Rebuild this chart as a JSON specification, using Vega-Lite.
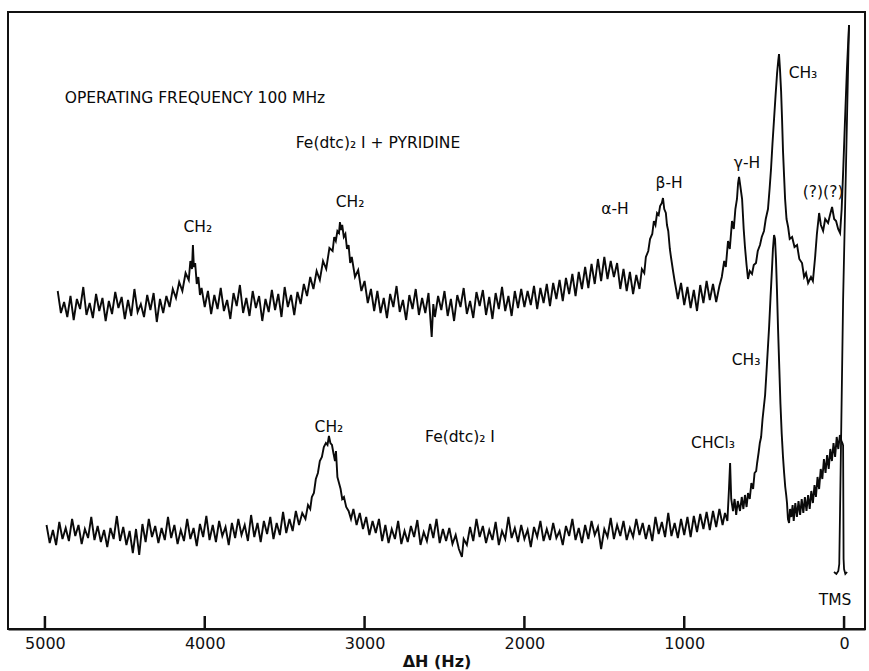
{
  "$schema": "https://vega.github.io/schema/vega-lite/v6.json",
  "width": 857,
  "height": 617,
  "autosize": {"type": "none"},
  "padding": {"left": 8, "top": 12, "right": 4, "bottom": 42},
  "background": "white",
  "config": {
    "view": {"stroke": "#111", "strokeWidth": 2},
    "font": "DejaVu Sans"
  },
  "datasets": {
    "upper": [
      {"hz":4920,"y":338},{"hz":4900,"y":316},{"hz":4880,"y":327},{"hz":4860,"y":312},{"hz":4840,"y":333},{"hz":4820,"y":309},{"hz":4800,"y":330},{"hz":4780,"y":320},{"hz":4760,"y":342},{"hz":4740,"y":314},{"hz":4720,"y":326},{"hz":4700,"y":311},{"hz":4680,"y":335},{"hz":4660,"y":318},{"hz":4640,"y":331},{"hz":4620,"y":308},{"hz":4600,"y":328},{"hz":4580,"y":315},{"hz":4560,"y":337},{"hz":4540,"y":321},{"hz":4520,"y":332},{"hz":4500,"y":310},{"hz":4480,"y":329},{"hz":4460,"y":313},{"hz":4440,"y":340},{"hz":4420,"y":317},{"hz":4400,"y":325},{"hz":4380,"y":312},{"hz":4360,"y":334},{"hz":4340,"y":319},{"hz":4320,"y":336},{"hz":4300,"y":307},{"hz":4280,"y":330},{"hz":4260,"y":316},{"hz":4240,"y":333},
      {"hz":4220,"y":322},{"hz":4200,"y":340},{"hz":4180,"y":331},{"hz":4160,"y":347},{"hz":4140,"y":338},{"hz":4120,"y":356},{"hz":4100,"y":349},{"hz":4090,"y":368},{"hz":4080,"y":360},{"hz":4074,"y":384},{"hz":4068,"y":362},{"hz":4060,"y":366},{"hz":4050,"y":345},{"hz":4040,"y":352},{"hz":4030,"y":334},{"hz":4020,"y":341},{"hz":4000,"y":322},{"hz":3980,"y":338},
      {"hz":3960,"y":315},{"hz":3940,"y":334},{"hz":3920,"y":320},{"hz":3900,"y":341},{"hz":3880,"y":318},{"hz":3860,"y":329},{"hz":3840,"y":310},{"hz":3820,"y":336},{"hz":3800,"y":323},{"hz":3780,"y":344},{"hz":3760,"y":316},{"hz":3740,"y":331},{"hz":3720,"y":313},{"hz":3700,"y":338},{"hz":3680,"y":321},{"hz":3660,"y":333},{"hz":3640,"y":308},{"hz":3620,"y":330},{"hz":3600,"y":317},{"hz":3580,"y":339},{"hz":3560,"y":319},{"hz":3540,"y":335},{"hz":3520,"y":312},{"hz":3500,"y":342},{"hz":3480,"y":322},{"hz":3460,"y":334},{"hz":3440,"y":314},{"hz":3420,"y":337},
      {"hz":3400,"y":325},{"hz":3380,"y":345},{"hz":3360,"y":333},{"hz":3340,"y":352},{"hz":3320,"y":340},{"hz":3300,"y":358},{"hz":3280,"y":349},{"hz":3260,"y":368},{"hz":3240,"y":360},{"hz":3220,"y":381},{"hz":3200,"y":378},{"hz":3190,"y":392},{"hz":3180,"y":388},{"hz":3170,"y":398},{"hz":3160,"y":396},{"hz":3154,"y":407},{"hz":3148,"y":399},{"hz":3140,"y":404},{"hz":3130,"y":392},{"hz":3120,"y":395},{"hz":3110,"y":380},{"hz":3100,"y":384},{"hz":3090,"y":366},{"hz":3080,"y":372},{"hz":3060,"y":352},{"hz":3040,"y":359},{"hz":3020,"y":338},{"hz":3000,"y":348},{"hz":2980,"y":326},{"hz":2960,"y":340},
      {"hz":2940,"y":318},{"hz":2920,"y":338},{"hz":2900,"y":316},{"hz":2880,"y":331},{"hz":2860,"y":311},{"hz":2840,"y":335},{"hz":2820,"y":322},{"hz":2800,"y":343},{"hz":2780,"y":317},{"hz":2760,"y":329},{"hz":2740,"y":309},{"hz":2720,"y":334},{"hz":2700,"y":320},{"hz":2680,"y":340},{"hz":2660,"y":314},{"hz":2640,"y":331},{"hz":2620,"y":316},{"hz":2600,"y":336},{"hz":2580,"y":292},{"hz":2570,"y":325},{"hz":2560,"y":312},{"hz":2540,"y":333},{"hz":2520,"y":319},{"hz":2500,"y":338},{"hz":2480,"y":313},{"hz":2460,"y":330},{"hz":2440,"y":308},{"hz":2420,"y":334},{"hz":2400,"y":322},{"hz":2380,"y":341},{"hz":2360,"y":315},{"hz":2340,"y":328},{"hz":2320,"y":311},{"hz":2300,"y":337},{"hz":2280,"y":323},{"hz":2260,"y":339},{"hz":2240,"y":314},{"hz":2220,"y":332},{"hz":2200,"y":310},{"hz":2180,"y":336},{"hz":2160,"y":320},{"hz":2140,"y":342},{"hz":2120,"y":318},{"hz":2100,"y":333},{"hz":2080,"y":313},{"hz":2060,"y":338},{"hz":2040,"y":321},
      {"hz":2020,"y":340},{"hz":2000,"y":322},{"hz":1980,"y":338},{"hz":1960,"y":324},{"hz":1940,"y":343},{"hz":1920,"y":320},{"hz":1900,"y":341},{"hz":1880,"y":326},{"hz":1860,"y":345},{"hz":1840,"y":323},{"hz":1820,"y":346},{"hz":1800,"y":330},{"hz":1780,"y":349},{"hz":1760,"y":328},{"hz":1740,"y":351},{"hz":1720,"y":335},{"hz":1700,"y":355},{"hz":1680,"y":333},{"hz":1660,"y":357},{"hz":1640,"y":340},{"hz":1620,"y":362},{"hz":1600,"y":341},{"hz":1580,"y":365},{"hz":1560,"y":345},{"hz":1540,"y":370},{"hz":1520,"y":348},{"hz":1500,"y":372},{"hz":1480,"y":350},{"hz":1460,"y":368},{"hz":1440,"y":352},{"hz":1420,"y":366},{"hz":1400,"y":340},{"hz":1380,"y":360},{"hz":1360,"y":338},{"hz":1340,"y":357},{"hz":1320,"y":335},{"hz":1300,"y":354},{"hz":1280,"y":340},
      {"hz":1265,"y":360},{"hz":1250,"y":356},{"hz":1240,"y":372},{"hz":1225,"y":378},{"hz":1214,"y":390},{"hz":1200,"y":395},{"hz":1190,"y":408},{"hz":1180,"y":404},{"hz":1170,"y":416},{"hz":1160,"y":414},{"hz":1151,"y":423},{"hz":1140,"y":426},{"hz":1133,"y":431},{"hz":1125,"y":420},{"hz":1115,"y":416},{"hz":1108,"y":404},{"hz":1100,"y":398},{"hz":1090,"y":380},{"hz":1083,"y":372},{"hz":1070,"y":358},{"hz":1060,"y":348},{"hz":1051,"y":340},{"hz":1040,"y":330},
      {"hz":1020,"y":346},{"hz":1000,"y":324},{"hz":980,"y":342},{"hz":960,"y":321},{"hz":940,"y":339},{"hz":920,"y":318},{"hz":900,"y":344},{"hz":880,"y":326},{"hz":860,"y":348},{"hz":840,"y":329},{"hz":820,"y":345},{"hz":800,"y":327},{"hz":780,"y":343},
      {"hz":765,"y":352},{"hz":750,"y":368},{"hz":740,"y":362},{"hz":726,"y":388},{"hz":715,"y":380},{"hz":701,"y":408},{"hz":690,"y":400},{"hz":680,"y":420},{"hz":670,"y":430},{"hz":663,"y":446},{"hz":657,"y":452},{"hz":650,"y":444},{"hz":638,"y":430},{"hz":628,"y":400},{"hz":620,"y":382},{"hz":610,"y":364},{"hz":601,"y":350},{"hz":590,"y":358},{"hz":576,"y":355},{"hz":565,"y":364},{"hz":551,"y":366},{"hz":540,"y":378},{"hz":526,"y":384},{"hz":515,"y":392},{"hz":501,"y":398},{"hz":490,"y":410},{"hz":476,"y":420},{"hz":466,"y":440},{"hz":457,"y":460},{"hz":448,"y":485},{"hz":438,"y":510},{"hz":428,"y":535},{"hz":419,"y":556},{"hz":412,"y":568},{"hz":407,"y":575},{"hz":401,"y":560},{"hz":394,"y":538},{"hz":388,"y":510},{"hz":382,"y":478},{"hz":375,"y":452},{"hz":369,"y":430},{"hz":360,"y":410},{"hz":350,"y":402},{"hz":340,"y":390},{"hz":325,"y":392},{"hz":310,"y":382},{"hz":294,"y":384},{"hz":280,"y":370},{"hz":263,"y":366},{"hz":250,"y":352},{"hz":238,"y":356},{"hz":225,"y":346},{"hz":207,"y":352},{"hz":195,"y":348},{"hz":181,"y":372},{"hz":170,"y":395},{"hz":156,"y":416},{"hz":145,"y":404},{"hz":131,"y":398},{"hz":118,"y":410},{"hz":100,"y":406},{"hz":88,"y":414},{"hz":75,"y":422},{"hz":62,"y":410},{"hz":50,"y":408},{"hz":37,"y":400},{"hz":25,"y":396},{"hz":15,"y":420},{"hz":5,"y":460},{"hz":-6,"y":509},{"hz":-18,"y":560},{"hz":-31,"y":604}
    ],
    "upperTMS": [
      {"hz":-31,"y":604},{"hz":6,"y":329},{"hz":30,"y":65},{"hz":36,"y":58},{"hz":48,"y":55},{"hz":63,"y":57}
    ],
    "lower": [
      {"hz":4990,"y":104},{"hz":4970,"y":86},{"hz":4950,"y":99},{"hz":4930,"y":84},{"hz":4910,"y":107},{"hz":4890,"y":90},{"hz":4870,"y":101},{"hz":4850,"y":88},{"hz":4830,"y":110},{"hz":4810,"y":93},{"hz":4790,"y":104},{"hz":4770,"y":85},{"hz":4750,"y":100},{"hz":4730,"y":91},{"hz":4710,"y":112},{"hz":4690,"y":89},{"hz":4670,"y":103},{"hz":4650,"y":87},{"hz":4630,"y":99},{"hz":4610,"y":82},{"hz":4590,"y":101},{"hz":4570,"y":90},{"hz":4550,"y":113},{"hz":4530,"y":88},{"hz":4510,"y":102},{"hz":4490,"y":84},{"hz":4470,"y":98},{"hz":4450,"y":76},{"hz":4430,"y":100},{"hz":4410,"y":74},{"hz":4390,"y":105},{"hz":4370,"y":87},{"hz":4350,"y":110},{"hz":4330,"y":92},{"hz":4310,"y":103},{"hz":4290,"y":86},{"hz":4270,"y":101},{"hz":4250,"y":89},{"hz":4230,"y":112},{"hz":4210,"y":91},{"hz":4190,"y":104},{"hz":4170,"y":85},{"hz":4150,"y":99},{"hz":4130,"y":88},{"hz":4110,"y":110},{"hz":4090,"y":90},{"hz":4070,"y":101},{"hz":4050,"y":83},{"hz":4030,"y":105},{"hz":4010,"y":92},{"hz":3990,"y":113},{"hz":3970,"y":89},{"hz":3950,"y":104},{"hz":3930,"y":87},{"hz":3910,"y":108},{"hz":3890,"y":93},{"hz":3870,"y":102},{"hz":3850,"y":84},{"hz":3830,"y":106},{"hz":3810,"y":91},{"hz":3790,"y":110},{"hz":3770,"y":94},{"hz":3750,"y":104},{"hz":3730,"y":88},{"hz":3710,"y":114},{"hz":3690,"y":92},{"hz":3670,"y":106},{"hz":3650,"y":87},{"hz":3630,"y":108},{"hz":3610,"y":95},{"hz":3590,"y":112},{"hz":3570,"y":90},{"hz":3550,"y":106},{"hz":3530,"y":94},{"hz":3510,"y":117},{"hz":3490,"y":96},
      {"hz":3470,"y":110},{"hz":3450,"y":98},{"hz":3430,"y":118},{"hz":3410,"y":104},{"hz":3390,"y":116},{"hz":3370,"y":110},{"hz":3354,"y":124},{"hz":3340,"y":120},{"hz":3330,"y":132},{"hz":3317,"y":136},{"hz":3305,"y":150},{"hz":3292,"y":156},{"hz":3280,"y":168},{"hz":3267,"y":172},{"hz":3255,"y":182},{"hz":3242,"y":186},{"hz":3232,"y":184},{"hz":3223,"y":193},{"hz":3214,"y":186},{"hz":3204,"y":184},{"hz":3195,"y":176},{"hz":3185,"y":168},{"hz":3179,"y":178},{"hz":3170,"y":152},{"hz":3160,"y":146},{"hz":3150,"y":140},{"hz":3140,"y":130},{"hz":3129,"y":132},{"hz":3115,"y":122},{"hz":3100,"y":118},{"hz":3085,"y":110},{"hz":3070,"y":120},{"hz":3050,"y":104},{"hz":3030,"y":116},{"hz":3010,"y":100},{"hz":2990,"y":112},{"hz":2970,"y":94},{"hz":2950,"y":108},{"hz":2930,"y":96},{"hz":2910,"y":110},
      {"hz":2890,"y":88},{"hz":2870,"y":104},{"hz":2850,"y":86},{"hz":2830,"y":100},{"hz":2810,"y":90},{"hz":2790,"y":108},{"hz":2770,"y":85},{"hz":2750,"y":98},{"hz":2730,"y":87},{"hz":2710,"y":103},{"hz":2690,"y":92},{"hz":2670,"y":109},{"hz":2650,"y":84},{"hz":2630,"y":97},{"hz":2610,"y":88},{"hz":2590,"y":105},{"hz":2570,"y":91},{"hz":2550,"y":110},{"hz":2530,"y":86},{"hz":2510,"y":100},{"hz":2490,"y":88},{"hz":2470,"y":101},{"hz":2450,"y":85},{"hz":2430,"y":94},{"hz":2410,"y":80},{"hz":2391,"y":72},{"hz":2380,"y":90},{"hz":2360,"y":84},{"hz":2340,"y":102},{"hz":2320,"y":88},{"hz":2300,"y":110},{"hz":2280,"y":92},{"hz":2260,"y":103},{"hz":2240,"y":86},{"hz":2220,"y":99},{"hz":2200,"y":89},{"hz":2180,"y":107},{"hz":2160,"y":84},{"hz":2140,"y":98},{"hz":2120,"y":90},{"hz":2100,"y":112},{"hz":2080,"y":91},{"hz":2060,"y":101},{"hz":2040,"y":87},{"hz":2020,"y":104},{"hz":2000,"y":90},{"hz":1980,"y":99},{"hz":1960,"y":82},{"hz":1940,"y":102},{"hz":1920,"y":92},{"hz":1900,"y":108},{"hz":1880,"y":88},{"hz":1860,"y":100},{"hz":1840,"y":89},{"hz":1820,"y":106},{"hz":1800,"y":91},{"hz":1780,"y":98},{"hz":1760,"y":84},{"hz":1740,"y":103},{"hz":1720,"y":93},{"hz":1700,"y":110},{"hz":1680,"y":89},{"hz":1660,"y":101},{"hz":1640,"y":86},{"hz":1620,"y":104},{"hz":1600,"y":90},{"hz":1580,"y":108},{"hz":1560,"y":94},{"hz":1540,"y":102},{"hz":1520,"y":80},{"hz":1500,"y":100},{"hz":1480,"y":92},{"hz":1460,"y":111},{"hz":1440,"y":90},{"hz":1420,"y":104},{"hz":1400,"y":93},{"hz":1380,"y":108},{"hz":1360,"y":89},{"hz":1340,"y":101},{"hz":1320,"y":92},{"hz":1300,"y":110},{"hz":1280,"y":94},{"hz":1260,"y":106},{"hz":1240,"y":90},{"hz":1220,"y":104},{"hz":1200,"y":88},{"hz":1180,"y":112},{"hz":1160,"y":95},{"hz":1140,"y":107},{"hz":1120,"y":92},{"hz":1100,"y":116},{"hz":1080,"y":93},{"hz":1060,"y":106},{"hz":1040,"y":91},{"hz":1020,"y":110},{"hz":1000,"y":94},{"hz":980,"y":112},{"hz":960,"y":92},{"hz":940,"y":113},{"hz":920,"y":97},
      {"hz":900,"y":115},{"hz":880,"y":100},{"hz":860,"y":117},{"hz":840,"y":99},{"hz":820,"y":118},{"hz":800,"y":102},{"hz":780,"y":120},{"hz":760,"y":104},{"hz":745,"y":116},{"hz":730,"y":108},{"hz":720,"y":140},{"hz":713,"y":166},{"hz":706,"y":130},{"hz":695,"y":118},{"hz":685,"y":130},{"hz":675,"y":114},{"hz":665,"y":128},{"hz":651,"y":118},{"hz":640,"y":132},{"hz":630,"y":120},{"hz":620,"y":134},{"hz":610,"y":122},{"hz":601,"y":136},{"hz":590,"y":130},{"hz":580,"y":146},{"hz":569,"y":140},{"hz":560,"y":156},{"hz":550,"y":158},{"hz":544,"y":166},{"hz":535,"y":176},{"hz":527,"y":186},{"hz":519,"y":192},{"hz":510,"y":210},{"hz":502,"y":222},{"hz":494,"y":234},{"hz":485,"y":258},{"hz":477,"y":280},{"hz":469,"y":302},{"hz":460,"y":332},{"hz":451,"y":360},{"hz":445,"y":380},{"hz":438,"y":394},{"hz":432,"y":390},{"hz":426,"y":370},{"hz":420,"y":340},{"hz":413,"y":300},{"hz":405,"y":260},{"hz":398,"y":225},{"hz":390,"y":195},{"hz":382,"y":172},{"hz":375,"y":156},{"hz":368,"y":142},{"hz":362,"y":134},{"hz":357,"y":126},{"hz":351,"y":110},{"hz":344,"y":106},{"hz":338,"y":120},{"hz":330,"y":112},{"hz":322,"y":124},{"hz":315,"y":108},{"hz":305,"y":126},{"hz":295,"y":112},{"hz":285,"y":128},{"hz":275,"y":114},{"hz":265,"y":130},{"hz":255,"y":116},{"hz":245,"y":132},{"hz":235,"y":118},{"hz":225,"y":134},{"hz":215,"y":120},{"hz":205,"y":138},{"hz":195,"y":126},{"hz":185,"y":144},{"hz":176,"y":132},{"hz":166,"y":152},{"hz":156,"y":140},{"hz":146,"y":160},{"hz":136,"y":150},{"hz":126,"y":170},{"hz":116,"y":156},{"hz":106,"y":174},{"hz":96,"y":160},{"hz":86,"y":180},{"hz":76,"y":168},{"hz":66,"y":186},{"hz":56,"y":172},{"hz":46,"y":192},{"hz":36,"y":180},{"hz":26,"y":194},{"hz":16,"y":188},{"hz":6,"y":184}
    ],
    "lowerTMS": [
      {"hz":-19,"y":57},{"hz":-8,"y":55},{"hz":0,"y":60},{"hz":3,"y":70},{"hz":6,"y":184}
    ],
    "tickpos": [
      {"pos":0},{"pos":1000},{"pos":2000},{"pos":3000},{"pos":4000},{"pos":5000}
    ],
    "labels": [
      {"hz":4061,"y":531,"t":"OPERATING  FREQUENCY  100 MHz"},
      {"hz":2916,"y":486,"t":"Fe(dtc)₂ I + PYRIDINE"},
      {"hz":4043,"y":402,"t":"CH₂"},
      {"hz":3091,"y":427,"t":"CH₂"},
      {"hz":1433,"y":420,"t":"α-H"},
      {"hz":1095,"y":446,"t":"β-H"},
      {"hz":607,"y":466,"t":"γ-H"},
      {"hz":257,"y":556,"t":"CH₃"},
      {"hz":131,"y":437,"t":"(?)(?)"},
      {"hz":3223,"y":202,"t":"CH₂"},
      {"hz":2403,"y":192,"t":"Fe(dtc)₂ I"},
      {"hz":820,"y":186,"t":"CHCl₃"},
      {"hz":613,"y":269,"t":"CH₃"},
      {"hz":56,"y":29,"t":"TMS"}
    ]
  },
  "layer": [
    {
      "data": {"name": "upper"},
      "mark": {"type": "line", "color": "#0a0a0a", "strokeWidth": 1.9, "strokeJoin": "miter"},
      "encoding": {
        "x": {"field": "hz", "type": "quantitative",
          "scale": {"domain": [-131, 5231], "reverse": true, "nice": false, "zero": false},
          "axis": {"values": [0, 1000, 2000, 3000, 4000, 5000], "format": "d", "grid": false, "ticks": false,
            "domainColor": "#111", "domainWidth": 2,
            "labelFontSize": 16, "labelColor": "#111", "labelPadding": 6, "labelFont": "DejaVu Sans",
            "title": "ΔH  (Hz)", "titleFontSize": 16, "titleFontWeight": "bold", "titleColor": "#111", "titlePadding": 2, "titleFont": "DejaVu Sans"}},
        "y": {"field": "y", "type": "quantitative", "scale": {"domain": [0, 617], "nice": false, "zero": false}, "axis": null}
      }
    },
    {
      "data": {"name": "upperTMS"},
      "mark": {"type": "line", "color": "#0a0a0a", "strokeWidth": 1.8},
      "encoding": {
        "x": {"field": "hz", "type": "quantitative"},
        "y": {"field": "y", "type": "quantitative"}
      }
    },
    {
      "data": {"name": "lower"},
      "mark": {"type": "line", "color": "#0a0a0a", "strokeWidth": 1.9, "strokeJoin": "miter"},
      "encoding": {
        "x": {"field": "hz", "type": "quantitative"},
        "y": {"field": "y", "type": "quantitative"}
      }
    },
    {
      "data": {"name": "lowerTMS"},
      "mark": {"type": "line", "color": "#0a0a0a", "strokeWidth": 1.8},
      "encoding": {
        "x": {"field": "hz", "type": "quantitative"},
        "y": {"field": "y", "type": "quantitative"}
      }
    },
    {
      "data": {"name": "tickpos"},
      "mark": {"type": "rule", "color": "#111", "strokeWidth": 2.5},
      "encoding": {
        "x": {"field": "pos", "type": "quantitative"},
        "y": {"datum": 0},
        "y2": {"datum": 13}
      }
    },
    {
      "data": {"name": "labels"},
      "mark": {"type": "text", "color": "#0a0a0a", "fontSize": 15.5, "font": "DejaVu Sans", "align": "center", "baseline": "middle"},
      "encoding": {
        "x": {"field": "hz", "type": "quantitative"},
        "y": {"field": "y", "type": "quantitative"},
        "text": {"field": "t"}
      }
    }
  ]
}
